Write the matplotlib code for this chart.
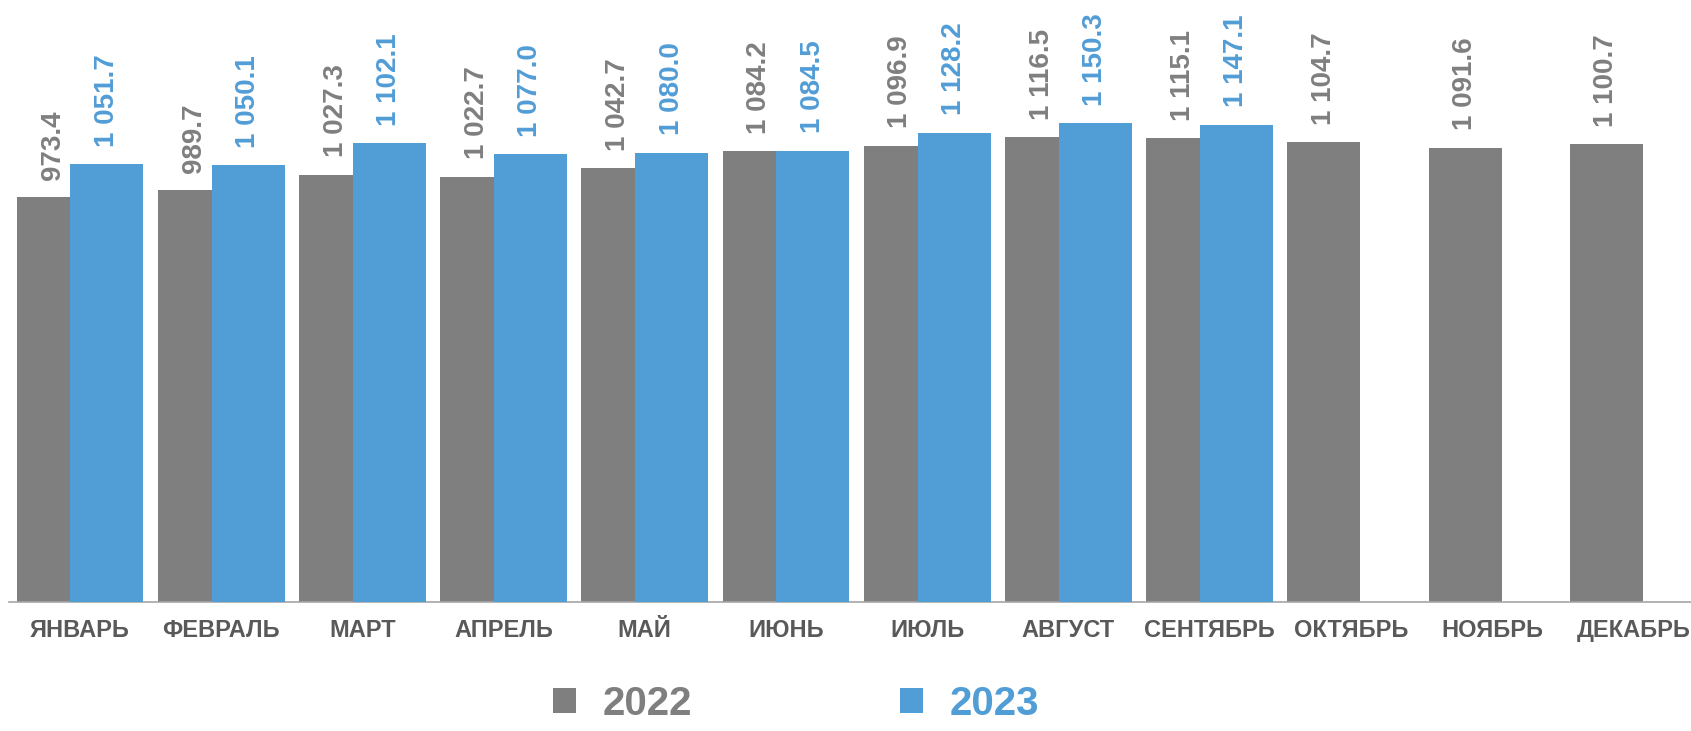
import matplotlib
matplotlib.use('Agg')
import matplotlib.pyplot as plt
from matplotlib import font_manager as fm
import numpy as np

months = ['ЯНВАРЬ', 'ФЕВРАЛЬ', 'МАРТ', 'АПРЕЛЬ', 'МАЙ', 'ИЮНЬ', 'ИЮЛЬ',
          'АВГУСТ', 'СЕНТЯБРЬ', 'ОКТЯБРЬ', 'НОЯБРЬ', 'ДЕКАБРЬ']
v2022 = [973.4, 989.7, 1027.3, 1022.7, 1042.7, 1084.2, 1096.9, 1116.5,
         1115.1, 1104.7, 1091.6, 1100.7]
v2023 = [1051.7, 1050.1, 1102.1, 1077.0, 1080.0, 1084.5, 1128.2, 1150.3,
         1147.1]
series_names = ['2022', '2023']
colors = ['#7F7F7F', '#519DD6']
label_colors = ['#7F7F7F', '#519DD6']

names = {f.name for f in fm.fontManager.ttflist}
base = 'Liberation Sans' if 'Liberation Sans' in names else 'DejaVu Sans'
plt.rcParams['font.family'] = [base, 'DejaVu Sans']

W, H = 1691, 731
fig = plt.figure(figsize=(W / 100, H / 100), dpi=100)
left_px, base_px, step_px = 9.4, 602, 141.2
ax = fig.add_axes([left_px / W, (H - base_px) / H, 12 * step_px / W, base_px / H])

x = np.arange(len(months))
bw = 0.517
off = 0.19
b1 = ax.bar(x - off, v2022, width=bw, color=colors[0], label=series_names[0], zorder=2)
x2 = x[:len(v2023)]
b2 = ax.bar(x2 + off, v2023, width=bw, color=colors[1], label=series_names[1], zorder=3)

def fmt(v):
    return f"{v:,.1f}".replace(',', ' ')

for bars, vals, c in [(b1, v2022, label_colors[0]), (b2, v2023, label_colors[1])]:
    for r, v in zip(bars, vals):
        ax.annotate(fmt(v), (r.get_x() + r.get_width() / 2, r.get_height()),
                    xytext=(0, 12.5), textcoords='offset points', rotation=90,
                    ha='center', va='bottom', fontsize=20, fontweight='bold',
                    color=c, zorder=5)

ax.set_xlim(-0.5, 11.5)
ax.set_ylim(0, 1447)
ax.set_xticks(x)
ax.set_xticklabels(months, fontsize=17, fontweight='bold', color='#595959')
ax.tick_params(axis='x', length=0, pad=12)
ax.set_yticks([])
for s in ['top', 'right', 'left']:
    ax.spines[s].set_visible(False)
ax.spines['bottom'].set_color('#A6A6A6')
ax.spines['bottom'].set_linewidth(1.2)
ax.set_facecolor('none')

leg = fig.legend(handles=[b1, b2], labels=series_names, loc='upper left',
                 bbox_to_anchor=(553 / W, 1 - 685 / H), ncol=2, frameon=False,
                 prop={'family': [base, 'DejaVu Sans'], 'weight': 'bold', 'size': 29},
                 handlelength=0.57, handleheight=0.57, handletextpad=0.67,
                 columnspacing=5.15, borderpad=0, borderaxespad=0,
                 labelcolor=label_colors)

fig.savefig('out.png', dpi=100)
